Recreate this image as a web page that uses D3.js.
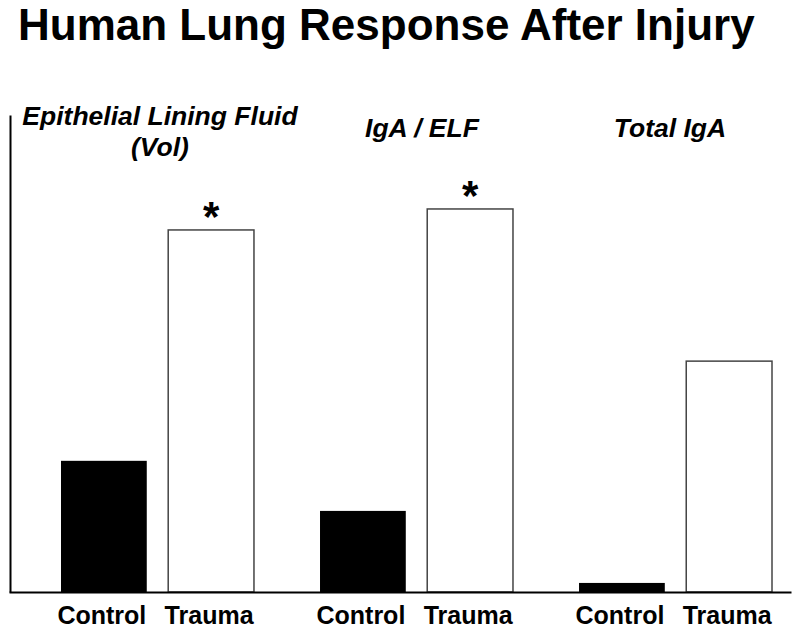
<!DOCTYPE html>
<html>
<head>
<meta charset="utf-8">
<script src="https://cdn.jsdelivr.net/npm/d3@7"></script>
<style>
  html, body { margin: 0; padding: 0; background: #fff; }
  text { font-family: "Liberation Sans", Arial, sans-serif; font-weight: bold; fill: #000; }
</style>
</head>
<body>
<svg id="chart" width="800" height="635"></svg>
<script>
// Data
const groups = ["Epithelial Lining Fluid (Vol)", "IgA / ELF", "Total IgA"];
const groupLines = [["Epithelial Lining Fluid", "(Vol)"], ["IgA / ELF"], ["Total IgA"]];
const conditions = ["Control", "Trauma"];
const controlValues = [27.5, 17.0, 1.9];
const traumaValues = [75.9, 80.3, 48.4];
const significant = [true, true, false];

const svg = d3.select("#chart");

const y = d3.scaleLinear().domain([0, 100]).range([592, 115]);
const x0 = d3.scaleBand().domain(groups).range([61, 772]).paddingInner(0.255).paddingOuter(0);
const x1 = d3.scaleBand().domain(conditions).range([0, x0.bandwidth()]).paddingInner(0.2).paddingOuter(0);

// Title
svg.append("text").attr("x", 18).attr("y", 40)
  .style("font-size", "44px").text("Human Lung Response After Injury");

const data = groups.map((g, i) => ({
  group: g, lines: groupLines[i], sig: significant[i],
  bars: [
    { cond: "Control", value: controlValues[i] },
    { cond: "Trauma", value: traumaValues[i] }
  ]
}));

const gSel = svg.selectAll("g.group").data(data).enter().append("g")
  .attr("class", "group")
  .attr("transform", d => `translate(${x0(d.group)},0)`);

gSel.selectAll("rect").data(d => d.bars).enter().append("rect")
  .attr("x", d => x1(d.cond))
  .attr("width", x1.bandwidth())
  .attr("y", d => y(d.value))
  .attr("height", d => y(0) - y(d.value))
  .attr("fill", d => d.cond === "Control" ? "#000" : "#fff")
  .attr("stroke", d => d.cond === "Control" ? "none" : "#444")
  .attr("stroke-width", 1.5);

// condition labels
gSel.selectAll("text.cond").data(d => d.bars).enter().append("text")
  .attr("class", "cond")
  .attr("x", d => x1(d.cond) + x1.bandwidth() / 2 - 2)
  .attr("y", 624)
  .attr("text-anchor", "middle")
  .style("font-size", "25px")
  .text(d => d.cond);

// significance asterisks
gSel.filter(d => d.sig).append("text")
  .attr("x", x1("Trauma") + x1.bandwidth() / 2)
  .attr("y", d => y(d.bars[1].value) + 1)
  .attr("text-anchor", "middle")
  .style("font-size", "42px")
  .text("*");

// group labels
const labelShift = [2.5, 5.5, -5.5];
gSel.each(function(d, i) {
  const cx = x0.bandwidth() / 2 + labelShift[i];
  const t = d3.select(this).append("text")
    .attr("x", cx)
    .attr("y", i === 0 ? 125 : 137)
    .attr("text-anchor", "middle")
    .style("font-size", "26.5px")
    .style("font-style", "italic");
  d.lines.forEach((line, j) => {
    t.append("tspan")
      .attr("x", cx)
      .attr("dy", j === 0 ? 0 : 31)
      .text(line);
  });
});

// axes lines
const yAxis = d3.axisLeft(y).ticks(0).tickSize(0).tickFormat("");
svg.append("g").attr("transform", "translate(10,0)").call(yAxis)
  .call(g => g.select(".domain").attr("stroke", "#000").attr("stroke-width", 2));

const xBase = d3.scaleLinear().domain([0, 1]).range([9, 791]);
const xAxis = d3.axisBottom(xBase).ticks(0).tickSize(0).tickFormat("");
svg.append("g").attr("transform", `translate(0,${y(0)})`).call(xAxis)
  .call(g => g.select(".domain").attr("stroke", "#000").attr("stroke-width", 2));
</script>
</body>
</html>
